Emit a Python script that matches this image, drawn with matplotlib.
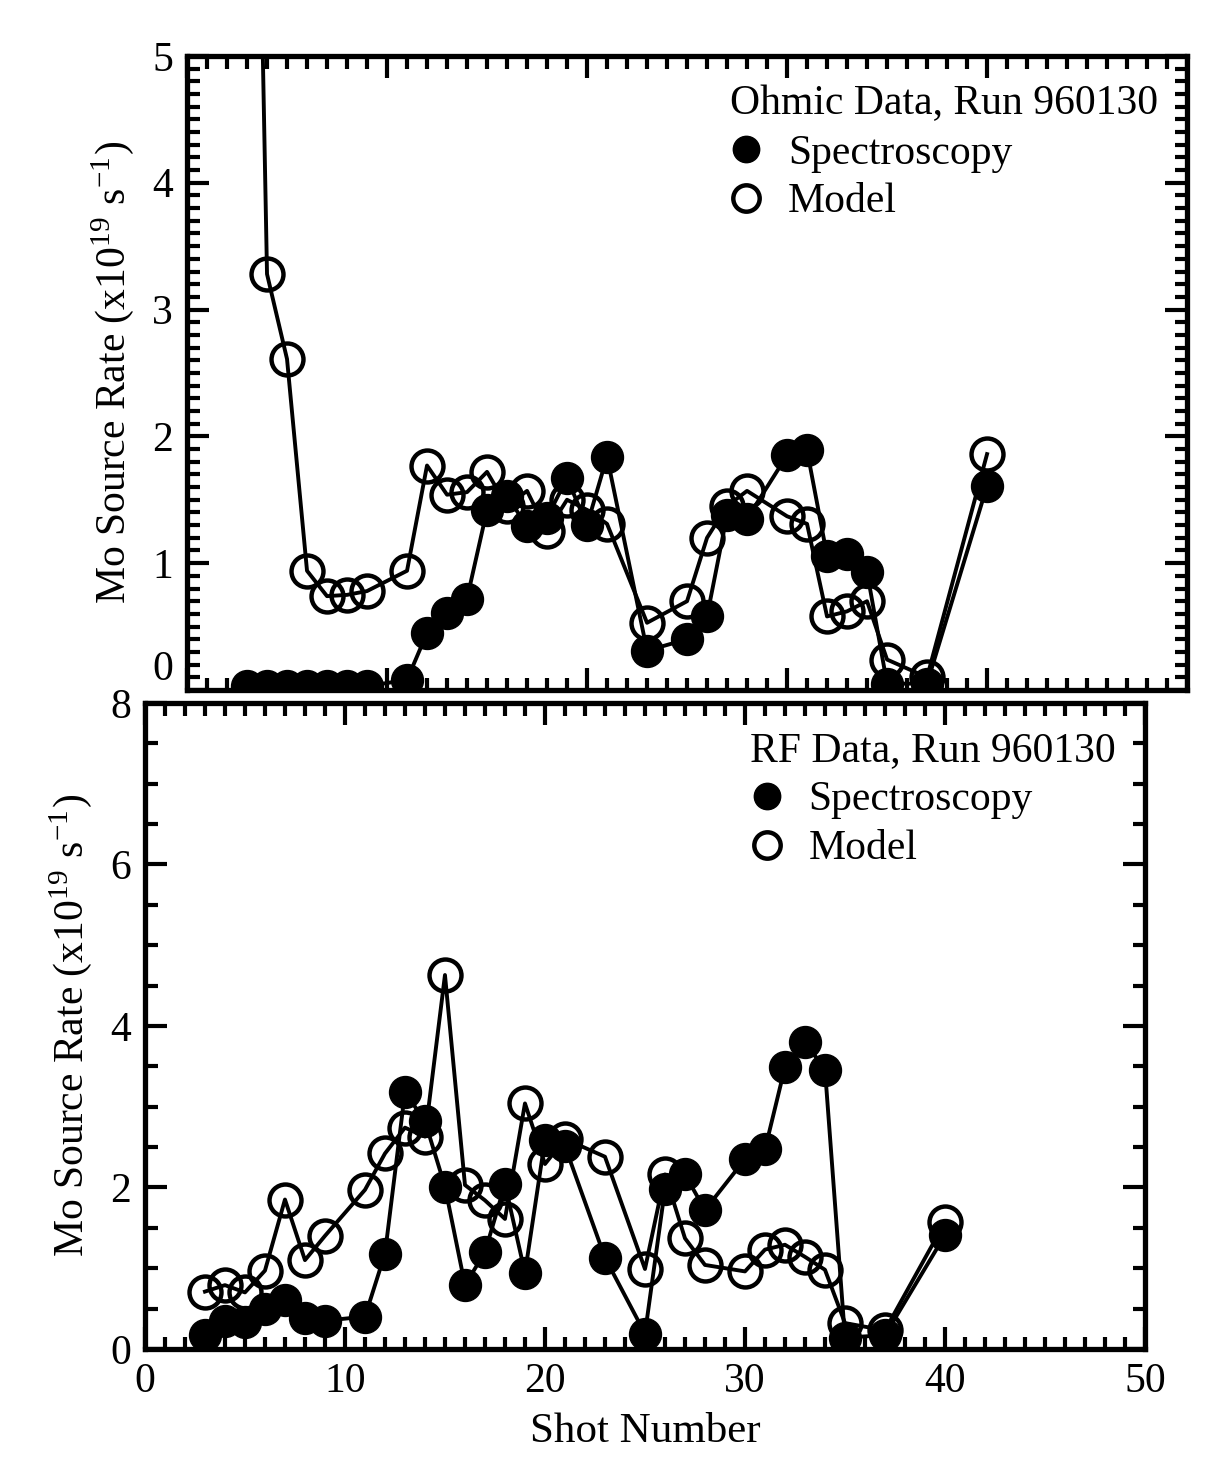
import matplotlib
matplotlib.use("Agg")
import matplotlib.pyplot as plt
import matplotlib.transforms as mtransforms
from matplotlib.ticker import MultipleLocator

plt.rcParams['font.family'] = ['Liberation Serif', 'DejaVu Serif']
plt.rcParams['mathtext.fontset'] = 'stix'

# shot numbers shared by both phases of run 960130
shots = [3, 4, 5, 6, 7, 8, 9, 11, 12, 13, 14, 15, 16, 17, 18, 19, 20, 21,
         23, 25, 26, 27, 28, 30, 31, 32, 33, 34, 35, 37, 40]

# Ohmic phase (x1e19 /s)
ohmic_spec = [0.03, 0.03, 0.03, 0.03, 0.03, 0.03, 0.03, 0.08, 0.45, 0.61, 0.72,
              1.42, 1.53, 1.29, 1.36, 1.67, 1.30, 1.84, 0.31, 0.40, 0.58, 1.38,
              1.35, 1.85, 1.89, 1.06, 1.07, 0.93, 0.05, 0.05, 1.61]
ohmic_model = [11.5, 3.28, 2.61, 0.94, 0.74, 0.75, 0.78, 0.94, 1.77, 1.54, 1.56,
               1.72, 1.45, 1.57, 1.25, 1.50, 1.42, 1.31, 0.53, 0.70, 1.20, 1.45,
               1.57, 1.37, 1.31, 0.58, 0.62, 0.70, 0.24, 0.10, 1.86]

# RF phase (x1e19 /s)
rf_spec = [0.17, 0.35, 0.33, 0.49, 0.61, 0.38, 0.35, 0.40, 1.18, 3.18, 2.82,
           2.01, 0.79, 1.20, 2.04, 0.94, 2.59, 2.51, 1.13, 0.19, 1.98, 2.16,
           1.72, 2.35, 2.47, 3.49, 3.80, 3.46, 0.14, 0.17, 1.41]
rf_model = [0.71, 0.79, 0.70, 0.97, 1.85, 1.10, 1.40, 1.97, 2.42, 2.74, 2.63,
            4.63, 2.03, 1.84, 1.61, 3.04, 2.29, 2.60, 2.38, 0.99, 2.16, 1.37,
            1.04, 0.96, 1.23, 1.29, 1.14, 0.98, 0.32, 0.23, 1.57]

ylabel = 'Mo Source Rate (x10$^{\\mathregular{19}}$ s$^{\\mathregular{-1}}$)'
fs = 30

fig = plt.figure(figsize=(12.05, 14.64), dpi=100)
ax1 = fig.add_axes([0.1552, 0.5287, 0.8299, 0.4331])
ax2 = fig.add_axes([0.1203, 0.0786, 0.8299, 0.4413])

panels = [
    (ax1, ohmic_spec, ohmic_model, 5, 1, 0.1, 'Ohmic Data, Run 960130'),
    (ax2, rf_spec, rf_model, 8, 2, 0.5, 'RF Data, Run 960130'),
]

for ax, spec, model, ymax, ymaj, ymin, title in panels:
    ax.plot(shots, spec, '-o', color='black', lw=2.8, ms=23,
            mfc='black', mec='black', label='Spectroscopy')
    ax.plot(shots, model, '-o', color='black', lw=2.8, ms=23, mew=3.2,
            mfc='none', mec='black', label='Model')
    ax.set_xlim(0, 50)
    ax.set_ylim(0, ymax)
    ax.xaxis.set_major_locator(MultipleLocator(10))
    ax.xaxis.set_minor_locator(MultipleLocator(1))
    ax.yaxis.set_major_locator(MultipleLocator(ymaj))
    ax.yaxis.set_minor_locator(MultipleLocator(ymin))
    ax.tick_params(which='both', direction='in', top=True, right=True,
                   width=3, labelsize=fs)
    ax.tick_params(which='major', length=16, pad=10)
    ax.tick_params(which='minor', length=9)
    for sp in ax.spines.values():
        sp.set_linewidth(3.8)
    ax.set_ylabel(ylabel, fontsize=fs, labelpad=12)
    leg = ax.legend(title=title, loc='upper right', frameon=False,
                    fontsize=fs, title_fontsize=fs, alignment='left',
                    handlelength=0.8, handletextpad=0.6, labelspacing=0.25,
                    borderaxespad=0.3)
    for h in leg.legend_handles:
        h.set_linestyle('none')
        h.set_markersize(19)

ax1.tick_params(axis='x', labelbottom=False)

# lift the top panel's "0" so it clears the lower panel's "8"
ax1.set_yticks(range(6))
ax1.set_yticklabels([str(v) for v in range(6)])
lift = mtransforms.ScaledTranslation(0, 18 / 72, fig.dpi_scale_trans)
zero = ax1.yaxis.get_major_ticks()[0].label1
zero.set_transform(zero.get_transform() + lift)

ax2.set_xlabel('Shot Number', fontsize=31, labelpad=8)

fig.savefig('out.png', dpi=100)
